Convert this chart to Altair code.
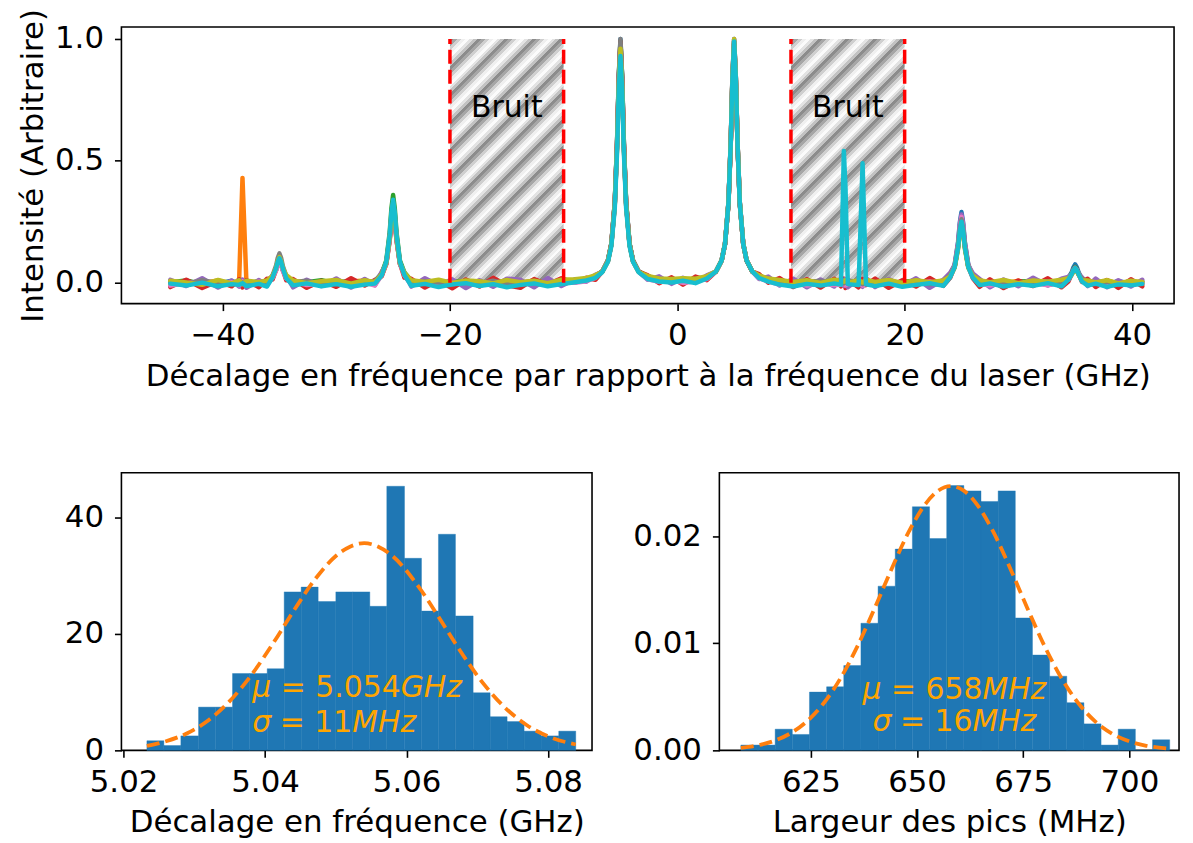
import altair as alt
import pandas as pd

FONT = "DejaVu Sans"
FS = 31          # axis labels / titles
FS_ANN = 30      # annotations inside the plots

# ---------------- top panel : spectra ----------------
freq = [
    -44.6, -43.2, -41.8, -40.4, -39.2,
    -38.55, -38.25, -37.9,
    -36.8, -36.1,
    -35.6, -35.3, -35.15, -35.0, -34.85, -34.7, -34.4,
    -33.8, -32.6, -31.3, -30.0, -28.7, -27.5, -26.6,
    -26.0, -25.6, -25.3, -25.15, -25.0, -24.85, -24.7, -24.4, -24.0,
    -23.4, -22.2, -21.0, -19.8, -18.6, -17.4, -16.2, -15.0, -13.8, -12.6, -11.4, -10.2, -9.0, -8.0, -7.2,
    -6.6, -6.1, -5.8, -5.5, -5.3, -5.15, -5.0, -4.85, -4.7, -4.5, -4.2, -3.9, -3.4,
    -2.6, -1.6, -0.5, 0.5, 1.6, 2.6,
    3.4, 3.9, 4.2, 4.5, 4.7, 4.85, 5.0, 5.15, 5.3, 5.5, 5.8, 6.1, 6.6,
    7.2, 8.0, 9.0, 10.2, 11.4, 12.6, 13.8,
    14.4, 14.65, 14.8, 15.0,
    15.95, 16.3, 16.6,
    17.4, 18.6, 19.8, 21.0, 22.2, 23.4,
    24.0, 24.4, 24.7, 24.85, 25.0, 25.15, 25.3, 25.6, 26.0,
    26.6, 27.5, 28.7, 30.0, 31.3, 32.6, 33.8,
    34.4, 34.7, 34.85, 35.0, 35.15, 35.3, 35.6,
    36.1, 36.8, 37.8, 38.8, 39.9, 40.9,
]

# intensities in thousandths, drawn in this order (last on top)
trace_names = ["blue", "orange", "green", "red", "purple", "pink", "grey", "olive", "cyan"]
trace_colors = ["#1f77b4", "#ff7f0e", "#2ca02c", "#d62728", "#9467bd", "#e377c2",
                "#7f7f7f", "#bcbd22", "#17becf"]
trace_blue = [
    5, -8, 3, -4, 8,
    -6, 2, -3,
    6, -2,
    27, 55, 80, 95, 78, 55, 19,
    -5, 4, -9, 2, 7, -3, 6,
    39, 81, 184, 270, 320, 270, 184, 81, 32,
    3, -7, 5, -2, 8, -6, 1, -10, 4, -4, 7, -8, 12, 15, 27,
    46, 92, 161, 329, 576, 845, 1000, 845, 576, 329, 161, 92, 46,
    24, 8, 14, 6, 17, 20,
    46, 92, 161, 329, 576, 845, 1000, 845, 576, 329, 161, 92, 46,
    22, 16, 4, -6, 5, -3, 6,
    -4, 3, -6, 2,
    5, -3, 7,
    -2, 6, -8, 3, -5, 4,
    35, 74, 167, 245, 290, 245, 167, 74, 28,
    2, -6, 7, -3, 5, -9, 3,
    19, 43, 63, 75, 63, 43, 14,
    -8, 4, -5, 6, -3, 2,
]
trace_orange = [
    -7, 4, -2, 9, -5,
    3, 430, -4,
    -9, 5,
    19, 52, 76, 90, 76, 52, 26,
    7, -6, 3, -11, 5, 9, -4,
    30, 76, 173, 254, 300, 254, 173, 76, 36,
    -6, 9, -3, 6, -9, 3, -5, 7, -2, 10, -7, 4, 3, 18, 22,
    45, 90, 158, 322, 564, 828, 980, 828, 564, 322, 158, 90, 45,
    19, 16, 5, 12, 9, 25,
    46, 91, 159, 326, 570, 837, 990, 837, 570, 326, 159, 91, 46,
    28, 10, 9, -4, 8, -7, 3,
    6, -5, 4, -8,
    -3, 7, -6,
    8, -4, 5, -9, 7, -2,
    25, 64, 144, 211, 250, 211, 144, 64, 30,
    -7, 6, -4, 8, -10, 4, -5,
    15, 35, 51, 60, 51, 35, 18,
    5, -7, 9, -4, 6, -9,
]
trace_green = [
    2, 9, -6, 5, -10,
    7, -5, 4,
    -3, 8,
    25, 58, 85, 100, 85, 58, 22,
    -8, 2, 10, -5, -1, 6, -9,
    39, 91, 207, 304, 360, 304, 207, 91, 42,
    8, -4, -9, 7, 2, -7, 9, -3, 6, -11, 3, 6, 4, 10, 29,
    46, 91, 159, 326, 570, 837, 990, 837, 570, 326, 159, 91, 46,
    26, 11, 7, 15, 8, 19,
    45, 90, 158, 322, 564, 828, 980, 828, 564, 322, 158, 90, 45,
    24, 18, -3, 7, -8, 9, -5,
    3, -7, 8, -2,
    -8, 4, -1,
    5, -7, 3, 9, -4, -9,
    31, 66, 150, 220, 260, 220, 150, 66, 25,
    6, -3, -9, 4, 8, -6, 10,
    17, 37, 55, 65, 55, 37, 12,
    -3, 8, -6, 2, -9, 5,
]
trace_red = [
    -18, 12, -22, 6, -15,
    14, -20, 10,
    -19, 16,
    13, 52, 76, 90, 76, 52, 10,
    15, -21, 8, -17, 18, -12, 11,
    26, 79, 179, 262, 310, 262, 179, 79, 20,
    16, -20, 9, -23, 13, -16, 20, -11, -21, 15, -8, 18, 0, 20, 12,
    46, 91, 159, 326, 570, 837, 990, 837, 570, 326, 159, 91, 46,
    30, -2, 22, -8, 25, 10,
    45, 90, 158, 322, 564, 828, 980, 828, 564, 322, 158, 90, 45,
    35, 0, 19, -18, 14, -20, 16,
    -15, 17, -22, 12,
    -19, 15, -10,
    17, -21, 10, -16, 19, -13,
    20, 66, 150, 220, 260, 220, 150, 66, 18,
    -17, 14, -22, 9, -14, 18, -19,
    5, 35, 51, 60, 51, 35, 3,
    16, -18, 11, -22, 14, -15,
]
trace_purple = [
    12, -14, 18, -20, 9,
    -16, 13, -21,
    11, -13,
    30, 51, 74, 88, 74, 51, 28,
    -19, 12, -14, 17, -20, 15, -10,
    45, 76, 173, 254, 300, 254, 173, 76, 40,
    -16, 18, -11, 14, -22, 10, -17, 16, 12, -19, 19, -14, 14, 4, 32,
    45, 89, 156, 319, 559, 820, 970, 820, 559, 319, 156, 89, 45,
    12, 26, -5, 20, 0, 30,
    46, 91, 159, 326, 570, 837, 990, 837, 570, 326, 159, 91, 46,
    15, 25, -12, 16, -19, 13, -16,
    18, -12, 15, -19,
    14, -17, 20,
    -18, 15, -13, 18, -21, 12,
    40, 71, 161, 237, 280, 237, 161, 71, 38,
    15, -19, 13, -15, 20, -12, 16,
    24, 36, 53, 62, 53, 36, 22,
    -14, 17, -19, 10, -16, 12,
]
trace_pink = [
    -12, -3, 7, -9, 2,
    -10, 5, -7,
    4, -8,
    20, 49, 72, 85, 72, 49, 17,
    5, -10, -3, 8, -7, 1, -12,
    31, 79, 179, 262, 310, 262, 179, 79, 29,
    -9, 2, -12, -5, 4, -11, -4, 3, -8, 2, -10, 1, 0, 6, 20,
    45, 89, 156, 319, 559, 820, 970, 820, 559, 319, 156, 89, 45,
    14, 3, 9, -1, 6, 15,
    46, 92, 161, 329, 576, 845, 1000, 845, 576, 329, 161, 92, 46,
    18, 5, -9, 2, -12, -4, -10,
    -9, 1, -11, -5,
    2, -12, -4,
    -7, 1, -11, -3, 5, -8,
    26, 69, 156, 228, 270, 228, 156, 69, 22,
    -5, -12, 2, -8, -2, -11, 0,
    12, 35, 51, 60, 51, 35, 10,
    -10, -1, -12, -4, -8, -2,
]
trace_grey = [
    3, -5, 10, -2, -7,
    9, -1, 6,
    -5, 3,
    30, 69, 101, 120, 101, 69, 28,
    3, 8, -6, 5, -9, 3, 7,
    36, 84, 190, 279, 330, 279, 190, 84, 33,
    -2, 6, 1, -8, 7, -4, 8, -6, -1, 7, -5, 9, 8, 14, 24,
    46, 92, 161, 329, 576, 845, 1000, 845, 576, 329, 161, 92, 46,
    21, 14, 11, 9, 12, 23,
    46, 91, 159, 326, 570, 837, 990, 837, 570, 326, 159, 91, 46,
    26, 12, 6, -7, 3, 8, -4,
    7, -3, 1, 8,
    4, -6, 9,
    -5, 7, -2, 6, -7, 5,
    30, 66, 150, 220, 260, 220, 150, 66, 27,
    8, -2, 5, -7, 3, 6, -8,
    15, 35, 51, 60, 51, 35, 16,
    6, -5, 3, -8, 7, -4,
]
trace_olive = [
    8, 1, -9, 11, -3,
    10, -6, 8,
    2, 9,
    27, 60, 89, 105, 89, 60, 31,
    9, -2, 6, 11, -4, 10, 2,
    35, 81, 184, 270, 320, 270, 184, 81, 39,
    10, 3, 12, -1, 9, 6, -3, 11, 2, 8, -2, 12, 14, 19, 31,
    44, 88, 155, 316, 553, 811, 960, 811, 553, 316, 155, 88, 44,
    28, 17, 15, 18, 16, 27,
    46, 92, 161, 329, 576, 845, 1000, 845, 576, 329, 161, 92, 46,
    30, 17, 11, 3, 10, -1, 12,
    9, 4, 11, 0,
    10, 1, 12,
    3, 11, -1, 10, 2, 9,
    26, 61, 138, 203, 240, 203, 138, 61, 29,
    10, 2, 11, -2, 9, 4, 12,
    18, 32, 46, 55, 46, 32, 10,
    9, 1, 10, -3, 8, 3,
]
trace_cyan = [
    -4, -12, 0, -15, -6,
    -9, -2, -14,
    -5, -16,
    22, 58, 85, 100, 85, 58, 18,
    -11, -3, -15, -6, -17, -8, -4,
    30, 86, 196, 287, 340, 287, 196, 86, 31,
    -13, -5, -18, -7, -2, -14, -6, -19, -9, -3, -15, -6, 2, 9, 20,
    43, 86, 150, 306, 536, 786, 930, 786, 536, 306, 150, 86, 43,
    15, 5, 1, 8, -2, 17,
    46, 91, 159, 326, 570, 837, 990, 837, 570, 326, 159, 91, 46,
    19, 4, -8, -16, -5, -12, -3,
    -8, 540, 385, -6,
    -10, 490, -7,
    -14, -4, -17, -9, -2, -13,
    22, 64, 144, 211, 250, 211, 144, 64, 20,
    -10, -3, -16, -6, -13, -2, -15,
    12, 35, 51, 60, 51, 35, 5,
    -12, -4, -17, -7, -11, -5,
]
trace_values = [trace_blue, trace_orange, trace_green, trace_red, trace_purple,
                trace_pink, trace_grey, trace_olive, trace_cyan]

bruit_lo = [-20, 10]
bruit_hi = [-10, 20]
bruit_center = [-15, 15]
bruit_label = ["Bruit", "Bruit"]
bruit_bottom = [0.0, 0.0]
bruit_top = [1.0, 1.0]
bruit_label_y = [0.68, 0.68]
bruit_edges = [-20, -10, 10, 20]

# ---------------- bottom left : peak position histogram ----------------
left_edges = [5.0233, 5.0257, 5.0281, 5.0306, 5.0330, 5.0354, 5.0378, 5.0403,
              5.0427, 5.0451, 5.0475, 5.0500, 5.0524, 5.0548, 5.0572, 5.0597,
              5.0621, 5.0645, 5.0669, 5.0694, 5.0718, 5.0742, 5.0766, 5.0790,
              5.0815, 5.0839]
left_density = [1.65, 0.83, 2.48, 7.43, 7.43, 13.2, 13.2, 14.03, 27.23, 28.05,
                25.58, 27.23, 27.23, 24.75, 45.38, 33.0, 23.93, 37.13, 23.1,
                9.9, 5.78, 4.95, 3.3, 2.48, 3.3]
left_fit_x = [5.0233, 5.026, 5.029, 5.032, 5.035, 5.038, 5.041, 5.044, 5.047,
              5.050, 5.052, 5.054, 5.056, 5.058, 5.062, 5.065, 5.068, 5.071,
              5.074, 5.077, 5.080, 5.0839]
left_fit_y = [0.77, 1.56, 2.95, 5.17, 8.45, 12.84, 18.15, 23.9, 29.3, 33.4,
              35.0, 35.6, 35.0, 33.4, 27.6, 22.0, 16.3, 11.25, 7.23, 4.32,
              2.40, 1.01]
left_annot = [("μ", "= 5.054", "GHz"), ("σ", "= 11", "MHz")]
left_annot_x = 5.0382      # left edge of the text block
left_annot_y = [9.18, 3.2]  # baselines

# ---------------- bottom right : peak width histogram ----------------
right_edges = [608.5, 612.54, 616.58, 620.62, 624.66, 628.70, 632.74, 636.78,
               640.82, 644.86, 648.90, 652.94, 656.98, 661.02, 665.06, 669.10,
               673.14, 677.18, 681.22, 685.26, 689.30, 693.34, 697.38, 701.42,
               705.46, 709.50]
right_density = [0.000495, 0.000495, 0.00198, 0.001485, 0.005446, 0.005941,
                 0.007921, 0.011881, 0.015347, 0.018812, 0.022772, 0.019802,
                 0.024752, 0.024257, 0.023267, 0.024257, 0.012376, 0.008911,
                 0.006931, 0.004455, 0.002475, 0.000495, 0.00198, 0.0, 0.00099]
right_fit_x = [608.5, 612, 616, 620, 624, 628, 632, 636, 640, 644, 648, 652,
               655, 658, 661, 664, 668, 672, 676, 680, 684, 688, 692, 696, 700,
               704, 709.5]
right_fit_y = [0.000225, 0.000428, 0.00084, 0.00155, 0.00269, 0.0044, 0.00676,
               0.00977, 0.01327, 0.01696, 0.02039, 0.02305, 0.02428, 0.0247,
               0.02428, 0.02305, 0.02039, 0.01696, 0.01327, 0.00977, 0.00676,
               0.0044, 0.00269, 0.00155, 0.00084, 0.000428, 0.000153]
right_annot = [("μ", "= 658", "MHz"), ("σ", "= 16", "MHz")]
right_annot_x = 658.8           # centre of the text block
right_annot_y = [0.004837, 0.001767]

# ---------------- geometry / style ----------------
TOP_W, TOP_H = 1058, 278
BL_W, BL_H = 473, 279
BR_W, BR_H = 462, 279
X_TOP_DOM = [-48.9, 43.7]
Y_TOP_DOM = [-0.086, 1.049]
XL_DOM = [5.0197, 5.0862]
YL_DOM = [0, 47.7]
XR_DOM = [603.44, 711.7]
YR_DOM = [0, 0.02595]

ORANGE_TXT = "#FFA500"
FIT_COLOR = "#ff7f0e"
BAR_COLOR = "#1f77b4"

# DejaVu Sans advance widths (em) for the annotation layout
ADV = {"μ": 0.635, "σ": 0.602, "=": 0.838, " ": 0.318, ".": 0.318,
       "G": 0.775, "H": 0.752, "M": 0.863, "z": 0.525}
for d in "0123456789":
    ADV[d] = 0.636


def tw(s):
    return sum(ADV[c] for c in s) * FS_ANN


def annot_rows(lines, anchor, ys, align, px_per_unit):
    rows = []
    for (sym, mid, unit), y in zip(lines, ys):
        total = tw(sym) + tw(" ") + tw(mid) + tw(unit)
        pos = 0.0 if align == "left" else -total / 2
        rows.append(dict(x=anchor + pos / px_per_unit, y=y, t=sym, it=True))
        pos += tw(sym) + tw(" ")
        rows.append(dict(x=anchor + pos / px_per_unit, y=y, t=mid, it=False))
        pos += tw(mid)
        rows.append(dict(x=anchor + pos / px_per_unit, y=y, t=unit, it=True))
    return pd.DataFrame(rows)


# hatch look for the "Bruit" areas (diagonal grey stripes)
band_cols = ["#8c8c8c", "#a6a6a6", "#cfcfcf", "#efefef", "#fbfbfb", "#e3e3e3", "#c2c2c2"]
n_periods = 13
stops = []
nb = n_periods * len(band_cols)
for p in range(n_periods):
    for b, c in enumerate(band_cols):
        k = p * len(band_cols) + b
        stops.append({"offset": k / nb, "color": c})
        stops.append({"offset": (k + 1) / nb, "color": c})
span_w = TOP_W * 10 / (X_TOP_DOM[1] - X_TOP_DOM[0])
span_h = TOP_H * 1.0 / (Y_TOP_DOM[1] - Y_TOP_DOM[0])
r = span_h / span_w
a = (span_w + span_h) / (span_w * (1 + r * r))
hatch_fill = {"gradient": "linear", "x1": 0, "y1": 0, "x2": a, "y2": a * r,
              "stops": stops}

# ---------------- top chart ----------------
x_top = dict(scale=alt.Scale(domain=X_TOP_DOM, nice=False, zero=False),
             axis=alt.Axis(title="Décalage en fréquence par rapport à la fréquence du laser (GHz)",
                           values=[-40, -20, 0, 20, 40], format="d",
                           labelPadding=10, titlePadding=11, labelFlush=False))
y_top = dict(scale=alt.Scale(domain=Y_TOP_DOM, nice=False, zero=False),
             axis=alt.Axis(title="Intensité (Arbitraire)", values=[0, 0.5, 1.0],
                           format=".1f", labelPadding=11, titlePadding=5,
                           minExtent=67, maxExtent=67))

bruit_df = pd.DataFrame({"lo": bruit_lo, "hi": bruit_hi, "center": bruit_center,
                         "label": bruit_label, "bottom": bruit_bottom,
                         "top": bruit_top, "ly": bruit_label_y})
edges_df = pd.DataFrame({"x": bruit_edges, "y0": [0.0] * len(bruit_edges),
                         "y1": [1.0] * len(bruit_edges)})

hatch = alt.Chart(bruit_df).mark_rect(fill=hatch_fill, strokeWidth=0).encode(
    x=alt.X("lo:Q", **x_top), x2="hi:Q",
    y=alt.Y("bottom:Q", **y_top), y2="top:Q")

layers = [hatch]
for name, col, vals in zip(trace_names, trace_colors, trace_values):
    df = pd.DataFrame({"freq": freq, "intensity": [v / 1000 for v in vals]})
    layers.append(
        alt.Chart(df).mark_line(color=col, strokeWidth=4.5, strokeJoin="round",
                                strokeCap="round").encode(
            x=alt.X("freq:Q", **x_top), y=alt.Y("intensity:Q", **y_top)))

rules = alt.Chart(edges_df).mark_rule(color="#ff0000", strokeDash=[14, 6],
                                      strokeWidth=3.5).encode(
    x=alt.X("x:Q", **x_top), y=alt.Y("y0:Q", **y_top), y2="y1:Q")
bruit_txt = alt.Chart(bruit_df).mark_text(font=FONT, fontSize=FS_ANN, color="black",
                                          align="center", baseline="alphabetic").encode(
    x=alt.X("center:Q", **x_top), y=alt.Y("ly:Q", **y_top), text="label:N")
layers += [rules, bruit_txt]

top = alt.layer(*layers).properties(width=TOP_W, height=TOP_H)

# ---------------- histogram helper ----------------
def hist_chart(edges, dens, fx, fy, xdom, ydom, w, h, xaxis, yaxis, ann_df):
    xs = dict(scale=alt.Scale(domain=xdom, nice=False, zero=False), axis=xaxis)
    ys = dict(scale=alt.Scale(domain=ydom, nice=False, zero=False), axis=yaxis)
    bars_df = pd.DataFrame({"lo": edges[:-1], "hi": edges[1:], "d": dens,
                            "z": [0.0] * len(dens)})
    fit_df = pd.DataFrame({"fx": fx, "fy": fy})
    bars = alt.Chart(bars_df).mark_rect(color=BAR_COLOR, stroke=BAR_COLOR,
                                        strokeWidth=0.4).encode(
        x=alt.X("lo:Q", **xs), x2="hi:Q", y=alt.Y("d:Q", **ys), y2="z:Q")
    fit = alt.Chart(fit_df).mark_line(color=FIT_COLOR, strokeDash=[13, 6],
                                      strokeWidth=3.8, interpolate="monotone").encode(
        x=alt.X("fx:Q", **xs), y=alt.Y("fy:Q", **ys))
    t_it = alt.Chart(ann_df).transform_filter("datum.it").mark_text(
        font=FONT, fontSize=FS_ANN, fontStyle="italic", color=ORANGE_TXT,
        align="left", baseline="alphabetic").encode(
        x=alt.X("x:Q", **xs), y=alt.Y("y:Q", **ys), text="t:N")
    t_no = alt.Chart(ann_df).transform_filter("!datum.it").mark_text(
        font=FONT, fontSize=FS_ANN, color=ORANGE_TXT,
        align="left", baseline="alphabetic").encode(
        x=alt.X("x:Q", **xs), y=alt.Y("y:Q", **ys), text="t:N")
    return alt.layer(bars, fit, t_it, t_no).properties(width=w, height=h)


left_ann = annot_rows(left_annot, left_annot_x, left_annot_y, "left",
                      BL_W / (XL_DOM[1] - XL_DOM[0]))
right_ann = annot_rows(right_annot, right_annot_x, right_annot_y, "center",
                       BR_W / (XR_DOM[1] - XR_DOM[0]))

bl = hist_chart(left_edges, left_density, left_fit_x, left_fit_y, XL_DOM, YL_DOM,
                BL_W, BL_H,
                alt.Axis(title="Décalage en fréquence (GHz)",
                         values=[5.02, 5.04, 5.06, 5.08], format=".2f",
                         labelPadding=10, titlePadding=11, labelFlush=False),
                alt.Axis(title=None, values=[0, 20, 40], format="d",
                         labelPadding=11, minExtent=103, maxExtent=103),
                left_ann)
br = hist_chart(right_edges, right_density, right_fit_x, right_fit_y, XR_DOM, YR_DOM,
                BR_W, BR_H,
                alt.Axis(title="Largeur des pics (MHz)",
                         values=[625, 650, 675, 700], format="d",
                         labelPadding=10, titlePadding=11, labelFlush=False),
                alt.Axis(title=None, values=[0, 0.01, 0.02], format=".2f",
                         labelPadding=11, minExtent=87, maxExtent=87),
                right_ann)

chart = alt.vconcat(top, alt.hconcat(bl, br, spacing=39), spacing=80).configure(
    font=FONT, padding={"left": 9, "top": -3, "right": 5, "bottom": 5}
).configure_view(stroke="black", strokeWidth=1.6).configure_axis(
    labelFont=FONT, titleFont=FONT, labelFontSize=FS, titleFontSize=FS,
    labelColor="black", titleColor="black", titleFontWeight="normal",
    tickColor="black", tickWidth=1.6, tickSize=7, domain=False, grid=False)

chart.save("out.html", embed_options={"renderer": "svg", "actions": False})
